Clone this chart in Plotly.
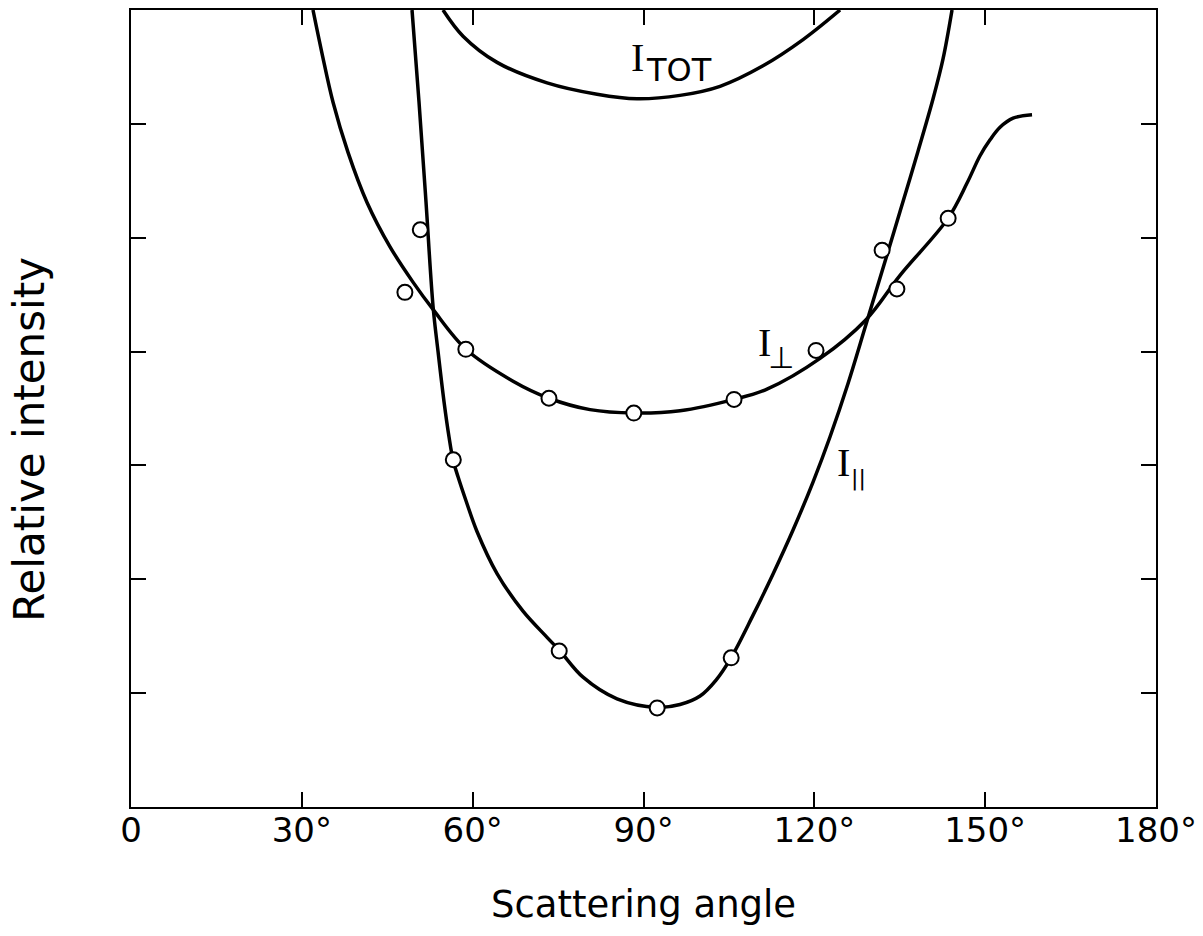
import plotly.graph_objects as go

# ---- data (scattering angle in degrees, relative intensity in tick units) ----
perp_curve_x = [31.96, 33.54, 35.48, 38.11, 41.45, 45.49, 49.52, 53.04, 58.83, 67.09,
                73.41, 80.61, 88.34, 96.41, 105.90, 111.69, 121.00, 129.08, 135.05,
                143.48, 146.82, 149.10, 150.86, 152.61, 154.90, 158.23]
perp_curve_y = [7.0, 6.62, 6.19, 5.75, 5.31, 4.92, 4.61, 4.37, 4.02, 3.74,
                3.59, 3.49, 3.46, 3.48, 3.58, 3.67, 3.94, 4.28, 4.67,
                5.17, 5.48, 5.72, 5.86, 5.97, 6.05, 6.08]

par_curve_x = [49.35, 50.58, 51.81, 53.04, 53.92, 54.97, 55.85, 56.55, 57.43, 58.83,
               60.76, 64.28, 68.84, 73.06, 75.34, 79.38, 85.35, 92.38, 96.41, 99.93,
               102.74, 105.37, 109.24, 112.75, 116.26, 119.77, 122.76, 125.92, 129.08,
               132.77, 135.05, 138.21, 140.85, 142.60, 144.18]
par_curve_y = [7.0, 6.19, 5.31, 4.40, 4.00, 3.56, 3.25, 3.05, 2.90, 2.69,
               2.42, 2.05, 1.72, 1.49, 1.37, 1.14, 0.95, 0.875, 0.90, 0.975,
               1.115, 1.31, 1.685, 2.047, 2.433, 2.854, 3.252, 3.72, 4.24,
               4.85, 5.23, 5.76, 6.22, 6.57, 7.0]

tot_curve_x = [54.79, 58.31, 64.28, 73.06, 81.84, 88.86, 96.41, 103.44, 110.99, 118.02, 124.52]
tot_curve_y = [7.0, 6.77, 6.54, 6.36, 6.26, 6.22, 6.25, 6.33, 6.51, 6.74, 7.0]

perp_pts_x = [48.1, 58.8, 73.4, 88.3, 105.9, 120.3, 134.5, 143.5]
perp_pts_y = [4.52, 4.02, 3.59, 3.46, 3.58, 4.01, 4.55, 5.17]

par_pts_x = [50.8, 56.6, 75.2, 92.4, 105.4, 131.9]
par_pts_y = [5.07, 3.05, 1.37, 0.87, 1.31, 4.89]

x_tick_vals = [0, 30, 60, 90, 120, 150, 180]
x_tick_text = ["0", "30°", "60°", "90°", "120°", "150°", "180°"]
y_tick_vals = [1, 2, 3, 4, 5, 6]

FONT = "DejaVu Sans"
SERIF = "Liberation Serif"
line_style = dict(color="black", width=3.5, shape="spline", smoothing=1.0)
marker_style = dict(symbol="circle", size=15, color="white",
                    line=dict(color="black", width=2))

fig = go.Figure()
for cx, cy in [(tot_curve_x, tot_curve_y), (perp_curve_x, perp_curve_y),
               (par_curve_x, par_curve_y)]:
    fig.add_trace(go.Scatter(x=cx, y=cy, mode="lines", line=line_style, hoverinfo="skip"))
fig.add_trace(go.Scatter(x=perp_pts_x, y=perp_pts_y, mode="markers", marker=marker_style,
                         cliponaxis=False))
fig.add_trace(go.Scatter(x=par_pts_x, y=par_pts_y, mode="markers", marker=marker_style,
                         cliponaxis=False))

def label(x, y, text, family, size):
    fig.add_annotation(x=x, y=y, text=text, showarrow=False,
                       font=dict(family=family, size=size, color="black"),
                       xanchor="center", yanchor="middle")

# curve labels: I_TOT, I_perp, I_par
label(88.9, 6.58, "I", SERIF, 40)
label(96.2, 6.47, "TOT", FONT, 32)
label(111.3, 4.08, "I", SERIF, 40)
label(114.2, 3.95, "⊥", FONT, 30)
label(125.2, 3.03, "I", SERIF, 40)
label(127.7, 2.89, "||", FONT, 22)

fig.add_annotation(x=90, xref="x", y=-0.1227, yref="paper", text="Scattering angle",
                   showarrow=False, font=dict(family=FONT, size=37, color="black"),
                   xanchor="center", yanchor="middle")
fig.add_annotation(x=-0.099, xref="paper", y=3.23, yref="y", text="Relative intensity",
                   textangle=-90, showarrow=False,
                   font=dict(family=FONT, size=42, color="black"),
                   xanchor="center", yanchor="middle")

fig.update_xaxes(range=[0, 180], tickvals=x_tick_vals, ticktext=x_tick_text,
                 ticks="inside", ticklen=15, tickwidth=1.5, tickcolor="black",
                 ticklabelstandoff=-8,
                 showline=True, linecolor="black", linewidth=2, mirror="ticks",
                 showgrid=False, zeroline=False,
                 tickfont=dict(family=FONT, size=34, color="black"))
fig.update_yaxes(range=[0, 7], tickvals=y_tick_vals, showticklabels=False,
                 ticks="inside", ticklen=15, tickwidth=1.5, tickcolor="black",
                 showline=True, linecolor="black", linewidth=2, mirror="ticks",
                 showgrid=False, zeroline=False)

fig.update_layout(width=1195, height=928, showlegend=False,
                  plot_bgcolor="white", paper_bgcolor="white",
                  margin=dict(l=123, r=47, t=0, b=129))

fig.write_html("out.html")
